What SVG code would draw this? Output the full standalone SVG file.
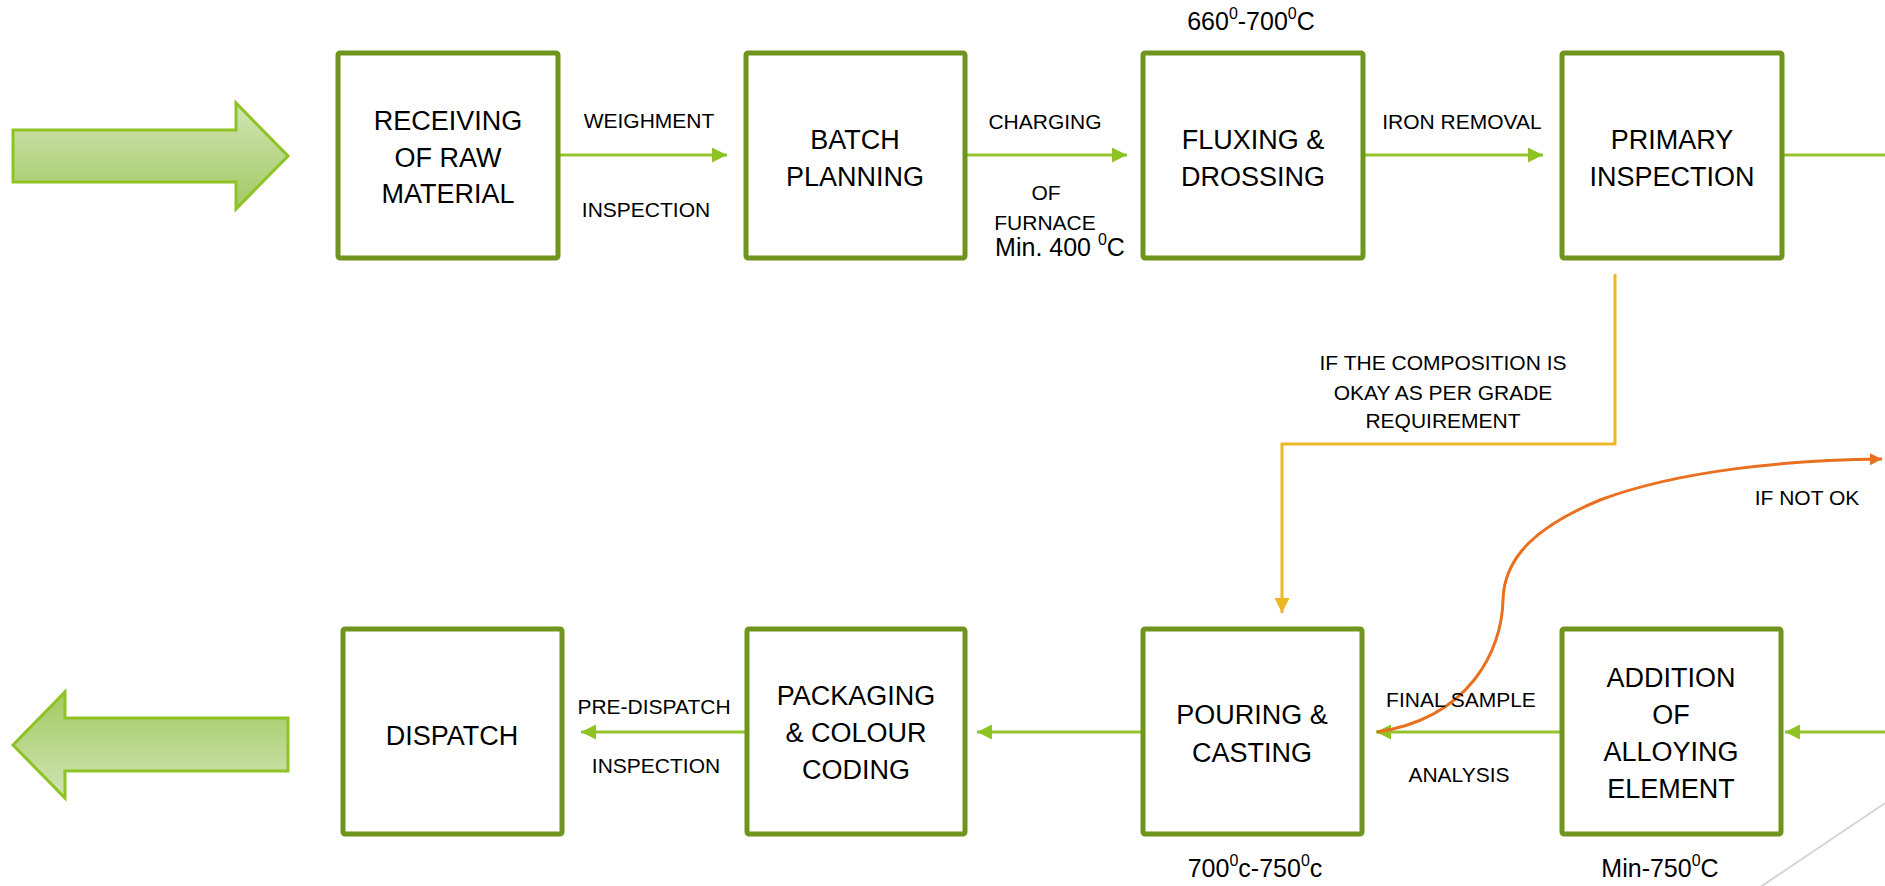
<svg xmlns="http://www.w3.org/2000/svg" width="1885" height="886" viewBox="0 0 1885 886">
<style>
.box{fill:#fff;stroke:#6f951f;stroke-width:5}
.t{font-family:"Liberation Sans",Arial,sans-serif;font-size:27px;fill:#000;text-anchor:middle}
.l{font-family:"Liberation Sans",Arial,sans-serif;font-size:21px;fill:#000;text-anchor:middle}
.tmp{font-family:"Liberation Sans",Arial,sans-serif;font-size:25px;fill:#000;text-anchor:middle}
.g{stroke:#93c42c;stroke-width:3;fill:none}
.big{stroke:#8fc224;stroke-width:3}
</style>
<defs>
<linearGradient id="gd" x1="0" y1="0" x2="0" y2="1">
<stop offset="0" stop-color="#d0e5b5"/>
<stop offset="1" stop-color="#a3c962"/>
</linearGradient>
<linearGradient id="gu" x1="0" y1="1" x2="0" y2="0">
<stop offset="0" stop-color="#d0e5b5"/>
<stop offset="1" stop-color="#a3c962"/>
</linearGradient>
<marker id="ag" markerUnits="userSpaceOnUse" markerWidth="16" markerHeight="16" refX="15" refY="7.5" orient="auto">
<path d="M0,0 L15,7.5 L0,15 z" fill="#8fc224"/>
</marker>
<marker id="ay" markerUnits="userSpaceOnUse" markerWidth="16" markerHeight="16" refX="15" refY="7.5" orient="auto">
<path d="M0,0 L15,7.5 L0,15 z" fill="#e9b824"/>
</marker>
<marker id="ao" markerUnits="userSpaceOnUse" markerWidth="14" markerHeight="14" refX="12" refY="6" orient="auto">
<path d="M0,0 L12,6 L0,12 z" fill="#e8701f"/>
</marker>
</defs>

<line x1="1900" y1="793" x2="1747" y2="896" stroke="#d4d4d4" stroke-width="2"/>

<g id="start-arrow">
<path class="big" fill="url(#gd)" d="M13,130 L236,130 L236,103 L288,156 L236,209 L236,182 L13,182 z"/>
</g>
<g id="end-arrow">
<path class="big" fill="url(#gu)" d="M288,718 L65,718 L65,692 L13,745 L65,798 L65,771 L288,771 z"/>
</g>

<g id="connectors">
<line class="g" x1="558" y1="155" x2="727" y2="155" marker-end="url(#ag)"/>
<line class="g" x1="965" y1="155" x2="1127" y2="155" marker-end="url(#ag)"/>
<line class="g" x1="1363" y1="155" x2="1543" y2="155" marker-end="url(#ag)"/>
<line class="g" x1="1782" y1="155" x2="1890" y2="155"/>
<line class="g" x1="1890" y1="732" x2="1785" y2="732" marker-end="url(#ag)"/>
<line class="g" x1="1562" y1="732" x2="1376" y2="732" marker-end="url(#ag)"/>
<line class="g" x1="1143" y1="732" x2="977" y2="732" marker-end="url(#ag)"/>
<line class="g" x1="747" y1="732" x2="581" y2="732" marker-end="url(#ag)"/>
<path d="M1615,274 L1615,444 L1282,444 L1282,613" fill="none" stroke="#e9b824" stroke-width="3" marker-end="url(#ay)"/>
<path d="M1377,732 C1470,718 1502,650 1503,600 C1504,555 1540,525 1600,500 C1680,470 1790,460 1882,459" fill="none" stroke="#e8701f" stroke-width="3" marker-end="url(#ao)"/>
</g>

<g id="labels">
<text class="l" x="649" y="128">WEIGHMENT</text>
<text class="l" x="646" y="217">INSPECTION</text>
<text class="l" x="1045" y="129">CHARGING</text>
<text class="l" x="1046" y="200">OF</text>
<text class="l" x="1045" y="230">FURNACE</text>
<text class="tmp" x="1060" y="256">Min. 400 <tspan font-size="16" dy="-11">0</tspan><tspan dy="11">C</tspan></text>
<text class="tmp" x="1251" y="30">660<tspan font-size="16" dy="-11">0</tspan><tspan dy="11">-700</tspan><tspan font-size="16" dy="-11">0</tspan><tspan dy="11">C</tspan></text>
<text class="l" x="1462" y="129">IRON REMOVAL</text>
<text class="l" x="1443" y="370">IF THE COMPOSITION IS</text>
<text class="l" x="1443" y="400">OKAY AS PER GRADE</text>
<text class="l" x="1443" y="428">REQUIREMENT</text>
<text class="l" x="1807" y="505" font-size="24">IF NOT OK</text>
<text class="l" x="1461" y="707">FINAL SAMPLE</text>
<text class="l" x="1459" y="782">ANALYSIS</text>
<text class="l" x="654" y="714">PRE-DISPATCH</text>
<text class="l" x="656" y="773">INSPECTION</text>
<text class="tmp" x="1255" y="877">700<tspan font-size="16" dy="-11">0</tspan><tspan dy="11">c-750</tspan><tspan font-size="16" dy="-11">0</tspan><tspan dy="11">c</tspan></text>
<text class="tmp" x="1660" y="877">Min-750<tspan font-size="16" dy="-11">0</tspan><tspan dy="11">C</tspan></text>
</g>

<g id="receiving">
<rect class="box" x="338" y="53" width="220" height="205" rx="2"/>
<text class="t" x="448" y="130">RECEIVING</text>
<text class="t" x="448" y="167">OF RAW</text>
<text class="t" x="448" y="203">MATERIAL</text>
</g>
<g id="batch">
<rect class="box" x="746" y="53" width="219" height="205" rx="2"/>
<text class="t" x="855" y="149">BATCH</text>
<text class="t" x="855" y="186">PLANNING</text>
</g>
<g id="fluxing">
<rect class="box" x="1143" y="53" width="220" height="205" rx="2"/>
<text class="t" x="1253" y="149">FLUXING &amp;</text>
<text class="t" x="1253" y="186">DROSSING</text>
</g>
<g id="primary">
<rect class="box" x="1562" y="53" width="220" height="205" rx="2"/>
<text class="t" x="1672" y="149">PRIMARY</text>
<text class="t" x="1672" y="186">INSPECTION</text>
</g>
<g id="addition">
<rect class="box" x="1562" y="629" width="219" height="205" rx="2"/>
<text class="t" x="1671" y="687">ADDITION</text>
<text class="t" x="1671" y="724">OF</text>
<text class="t" x="1671" y="761">ALLOYING</text>
<text class="t" x="1671" y="798">ELEMENT</text>
</g>
<g id="pouring">
<rect class="box" x="1143" y="629" width="219" height="205" rx="2"/>
<text class="t" x="1252" y="724">POURING &amp;</text>
<text class="t" x="1252" y="762">CASTING</text>
</g>
<g id="packaging">
<rect class="box" x="747" y="629" width="218" height="205" rx="2"/>
<text class="t" x="856" y="705">PACKAGING</text>
<text class="t" x="856" y="742">&amp; COLOUR</text>
<text class="t" x="856" y="779">CODING</text>
</g>
<g id="dispatch">
<rect class="box" x="343" y="629" width="219" height="205" rx="2"/>
<text class="t" x="452" y="745">DISPATCH</text>
</g>
</svg>
